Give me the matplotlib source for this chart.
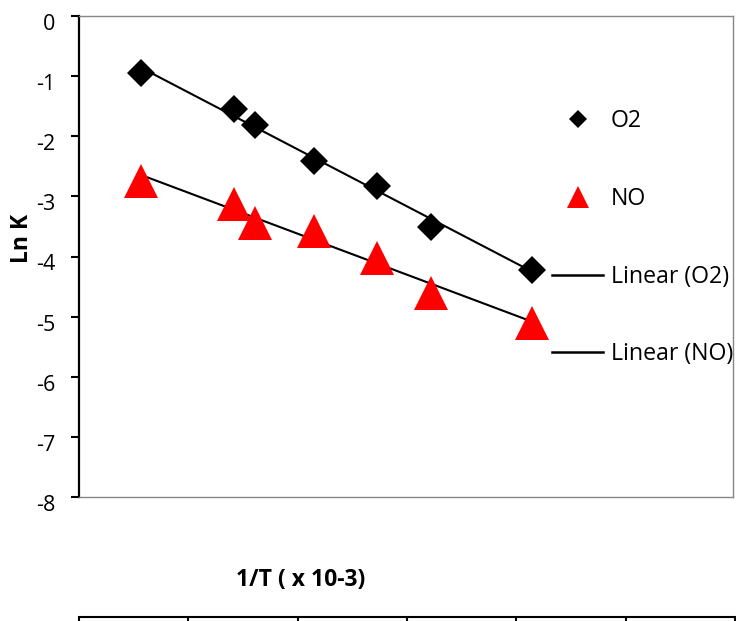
import numpy as np
import matplotlib
matplotlib.use("Agg")
import matplotlib.pyplot as plt
from matplotlib.lines import Line2D
from matplotlib.transforms import ScaledTranslation

plt.rcParams['font.family'] = ['Open Sans', 'DejaVu Sans']

# 1/T values (axis units) and ln K for both gases
inv_T = [0.567, 1.420, 1.614, 2.152, 2.723, 3.217, 4.146]
lnk_o2 = [-0.95, -1.55, -1.81, -2.41, -2.82, -3.51, -4.22]
lnk_no = [-2.75, -3.12, -3.44, -3.57, -4.02, -4.60, -5.10]
y_ticks = [0, -1, -2, -3, -4, -5, -6, -7, -8]
x_ticks = [0, 1, 2, 3, 4, 5, 6]

W, H = 736, 621
fig = plt.figure(figsize=(W / 100, H / 100), dpi=100)


def box(x0, y0, x1, y1):
    return [x0 / W, 1 - y1 / H, (x1 - x0) / W, (y1 - y0) / H]


unit = 109.33  # pixels per x unit
ax = fig.add_axes(box(79, 16, 733, 497))
ax.set_xlim(0, (733 - 79) / unit)
ax.set_ylim(-8, 0)

x = np.array(inv_T)
ax.plot(x, lnk_o2, ls='none', marker='D', ms=13.8, mew=0, color='black', zorder=3)
ax.plot(x, lnk_no, ls='none', marker='^', ms=25, mew=0, color='#ff0000', zorder=3)

# linear trendlines
for yv in (lnk_o2, lnk_no):
    k, b = np.polyfit(x, yv, 1)
    xs = np.array([x.min(), x.max()])
    ax.plot(xs, k * xs + b, color='black', lw=1.5, zorder=2)

ax.set_yticks(y_ticks)
ax.set_yticklabels([str(v) for v in y_ticks], fontsize=15.5)
ax.set_xticks([])
ax.tick_params(axis='y', direction='out', length=6, width=1.5, pad=11)
for lbl in ax.get_yticklabels():
    lbl.set_transform(lbl.get_transform() + ScaledTranslation(0, -0.06, fig.dpi_scale_trans))

for side in ('top', 'right', 'bottom'):
    ax.spines[side].set_color('#868686')
    ax.spines[side].set_linewidth(1.0)
ax.spines['left'].set_color('black')
ax.spines['left'].set_linewidth(1.6)

handles = [
    Line2D([], [], ls='none', marker='D', ms=9.2, mew=0, color='black'),
    Line2D([], [], ls='none', marker='^', ms=15.5, mew=0, color='#ff0000'),
    Line2D([], [], color='black', lw=1.8),
    Line2D([], [], color='black', lw=1.8),
]
labels = ['O2', 'NO', 'Linear (O2)', 'Linear (NO)']
ax.legend(handles, labels, loc='upper left', bbox_to_anchor=(552 / W, 1 - 109 / H),
          bbox_transform=fig.transFigure, frameon=False, borderpad=0,
          borderaxespad=0, handlelength=2.2, handletextpad=0.34,
          labelspacing=2.32, fontsize=16.7)

# separate category axis line at the bottom
ax2 = fig.add_axes([79 / W, 1 - 617 / H, (736 - 79) / W, 0.001])
ax2.set_xlim(0, (736 - 79) / unit)
ax2.set_xticks(x_ticks)
ax2.set_xticklabels([])
ax2.set_yticks([])
ax2.patch.set_visible(False)
for side in ('top', 'right', 'left'):
    ax2.spines[side].set_visible(False)
ax2.spines['bottom'].set_linewidth(1.5)
ax2.tick_params(axis='x', direction='out', length=8, width=1.5)

fig.text(22 / W, 1 - 238 / H, 'Ln K', rotation=90, ha='center', va='center',
         fontweight='bold', fontsize=16.5)
fig.text(301 / W, 1 - 580 / H, '1/T ( x 10-3)', ha='center', va='center',
         fontweight='bold', fontsize=16.5)

fig.savefig('out.png', dpi=100)
